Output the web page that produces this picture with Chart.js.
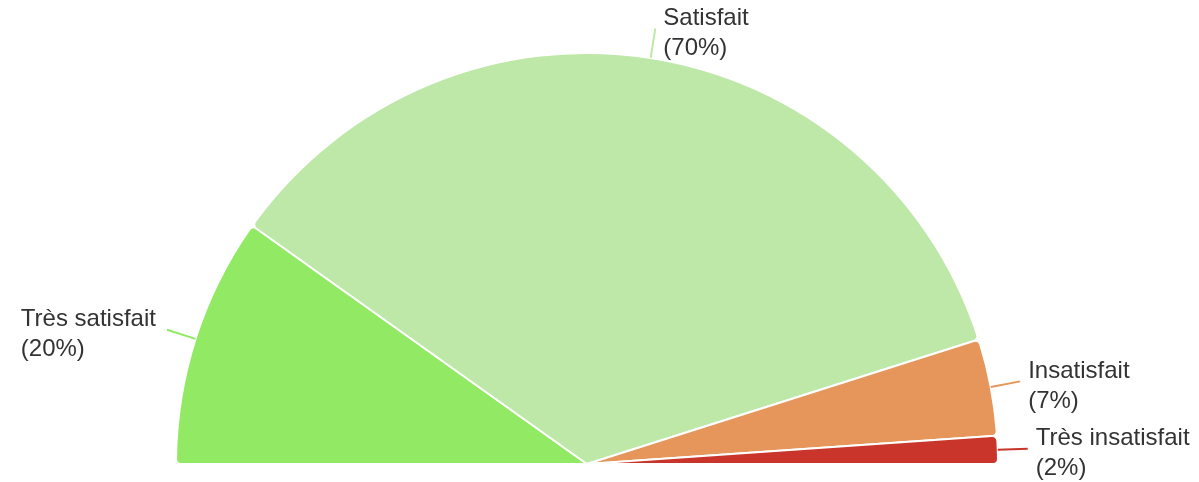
<!DOCTYPE html>
<html>
<head>
<meta charset="utf-8">
<script src="https://cdn.jsdelivr.net/npm/chart.js@4.4.1/dist/chart.umd.min.js"></script>
<style>
    html, body { margin: 0; padding: 0; background: #fff; }
    #wrap { width: 1199px; height: 482px; }
</style>
</head>
<body>
<div id="wrap"><canvas id="satisfactionChart"></canvas></div>
<script>
// Données
const categories = ['Très satisfait', 'Satisfait', 'Insatisfait', 'Très insatisfait'];
const shares = [19.7, 70.5, 7.6, 2.2];
const shareLabels = ['(20%)', '(70%)', '(7%)', '(2%)'];
const sliceColors = ['#92EA64', '#BDE8A7', '#E6965A', '#C9352A'];

// Étiquettes externes avec trait de rappel
const outsideLabels = {
    id: 'outsideLabels',
    afterDatasetsDraw(chart) {
        const ctx = chart.ctx;
        const meta = chart.getDatasetMeta(0);
        ctx.save();
        ctx.font = '24px "Liberation Sans", Arial, sans-serif';
        ctx.textBaseline = 'middle';
        meta.data.forEach((arc, i) => {
            const { x, y, startAngle, endAngle, outerRadius } = arc.getProps(['x', 'y', 'startAngle', 'endAngle', 'outerRadius'], true);
            const mid = (startAngle + endAngle) / 2;
            const cos = Math.cos(mid), sin = Math.sin(mid);
            const x1 = x + cos * outerRadius, y1 = y + sin * outerRadius;
            const x2 = x + cos * (outerRadius + 30), y2 = y + sin * (outerRadius + 30);

            ctx.strokeStyle = sliceColors[i];
            ctx.lineWidth = 2;
            ctx.beginPath();
            ctx.moveTo(x1, y1);
            ctx.lineTo(x2, y2);
            ctx.stroke();

            const lines = [categories[i], shareLabels[i]];
            const blockW = Math.max(...lines.map(t => ctx.measureText(t).width));
            const lineH = 30;
            const left = cos >= 0 ? x2 + 8 : x2 - 11 - blockW;
            const top = y2 - lineH / 2 + 5;
            ctx.fillStyle = '#333333';
            ctx.textAlign = 'left';
            lines.forEach((t, k) => ctx.fillText(t, left, top + k * lineH));
        });
        ctx.restore();
    }
};

new Chart(document.getElementById('satisfactionChart'), {
    type: 'pie',
    data: {
        labels: categories,
        datasets: [{
            data: shares,
            backgroundColor: sliceColors,
            borderColor: '#ffffff',
            borderWidth: 2,
            borderRadius: 5
        }]
    },
    options: {
        responsive: true,
        maintainAspectRatio: false,
        animation: false,
        rotation: -90,
        circumference: 180,
        layout: { padding: { left: 100, right: 125, top: 52, bottom: 17 } },
        plugins: {
            legend: { display: false },
            tooltip: { enabled: false }
        }
    },
    plugins: [outsideLabels]
});
</script>
</body>
</html>
